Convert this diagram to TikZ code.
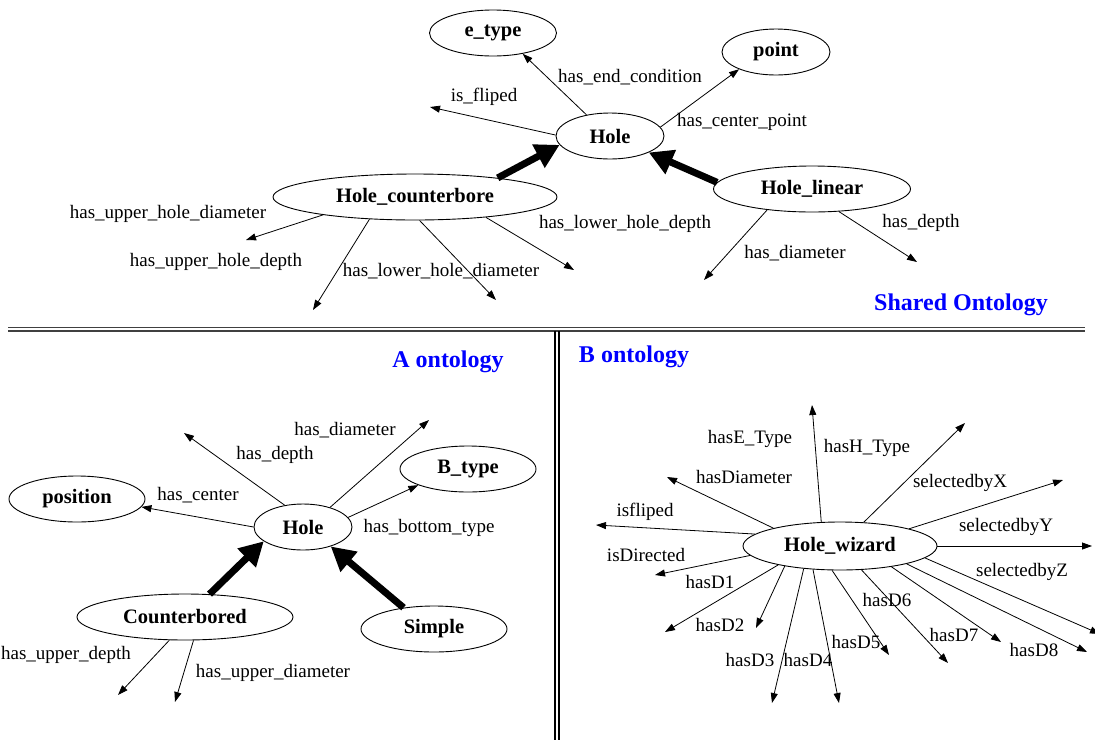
\documentclass[tikz,border=0pt]{standalone}
\usepackage{fontspec}
\setmainfont{Liberation Serif}
\usetikzlibrary{shapes,arrows.meta}

\begin{document}
\begin{tikzpicture}[x=1pt,y=-1pt]
    \tikzset{
        n/.style        =   { ellipse
                            , draw=black
                            , line width=0.9pt
                            , inner sep=0pt
                            , minimum height=46pt
                            , font=\bfseries\fontsize{20.5}{24}\selectfont
                            }
        , lbl/.style    =   { inner sep=0pt
                            , font=\fontsize{19}{22}\selectfont
                            }
        , title/.style  =   { inner sep=0pt
                            , text=blue
                            , font=\bfseries\fontsize{24}{28}\selectfont
                            }
        , arrow/.style  =   { line width=0.8pt
                            , -{Triangle[length=10pt,width=7pt]}
                            }
        , isa/.style    =   { line width=7pt
                            , -{Triangle[length=24pt,width=25pt]}
                            }
    }
    \useasboundingbox (0,0) rectangle (1095,740);

    % separators
    \draw[line width=1.5pt,black!75] (8,327.5) -- (1085,327.5);
    \draw[line width=1.5pt,black!75] (8,331) -- (1085,331);
    \draw[line width=2pt] (555,331) -- (555,740);
    \draw[line width=2pt] (558.5,331) -- (558.5,740);

    % shared ontology
    \node(1)[n,minimum width=108pt] at (610,136) {Hole};
    \node(2)[n,minimum width=127pt] at (493,33) {e\_type};
    \node(3)[n,minimum width=108pt] at (776,52) {point};
    \node(4)[n,minimum width=284pt] at (415,197) {Hole\_counterbore};
    \node(5)[n,minimum width=197pt] at (812,189) {Hole\_linear};
    \coordinate(t1) at (430,107);
    \coordinate(t2) at (246,240);
    \coordinate(t3) at (313,310);
    \coordinate(t4) at (496,300);
    \coordinate(t5) at (574,270);
    \coordinate(t6) at (704,280);
    \coordinate(t7) at (917,262);

    \draw[arrow] (1.138) -- (2.-35);
    \draw[arrow] (1.179) -- (t1);
    \draw[arrow] (1.10) -- (3.-155);
    \draw[isa] (4.13) -- (1.-170);
    \draw[isa] (5.176) -- (1.-23);
    \draw[arrow] (4.-169) -- (t2);
    \draw[arrow] (4.-154) -- (t3);
    \draw[arrow] (4.-79) -- (t4);
    \draw[arrow] (4.-16) -- (t5);
    \draw[arrow] (5.-155) -- (t6);
    \draw[arrow] (5.-40) -- (t7);

    \node(l1)[lbl] at (630,77) {has\_end\_condition};
    \node(l2)[lbl] at (484,97) {is\_fliped};
    \node(l3)[lbl] at (742,122) {has\_center\_point};
    \node(l4)[lbl] at (168,214) {has\_upper\_hole\_diameter};
    \node(l5)[lbl] at (216,262) {has\_upper\_hole\_depth};
    \node(l6)[lbl] at (441,271) {has\_lower\_hole\_diameter};
    \node(l7)[lbl] at (625,224) {has\_lower\_hole\_depth};
    \node(l8)[lbl] at (795,253) {has\_diameter};
    \node(l9)[lbl] at (921,223) {has\_depth};
    \node(h1)[title] at (961,305) {Shared Ontology};

    % A ontology
    \node(6)[n,minimum width=98pt] at (303,527) {Hole};
    \node(7)[n,minimum width=136pt] at (77,499) {position};
    \node(8)[n,minimum width=136pt] at (468,469) {B\_type};
    \node(9)[n,minimum width=216pt] at (185,617) {Counterbored};
    \node(10)[n,minimum width=146pt] at (434,629) {Simple};
    \coordinate(t8) at (184,433);
    \coordinate(t9) at (429,420);
    \coordinate(t10) at (118,695);
    \coordinate(t11) at (175,702);

    \draw[arrow] (6.130) -- (t8);
    \draw[arrow] (6.36) -- (t9);
    \draw[arrow] (6.12) -- (8.-162);
    \draw[arrow] (6.180) -- (7.-7);
    \draw[isa] (9.43) -- (6.-160);
    \draw[isa] (10.145) -- (6.-35);
    \draw[arrow] (9.-124) -- (t10);
    \draw[arrow] (9.-70) -- (t11);

    \node(l10)[lbl] at (275,455) {has\_depth};
    \node(l11)[lbl] at (345,430) {has\_diameter};
    \node(l12)[lbl] at (429,528) {has\_bottom\_type};
    \node(l13)[lbl] at (198,495) {has\_center};
    \node(l14)[lbl] at (66,655) {has\_upper\_depth};
    \node(l15)[lbl] at (273,673) {has\_upper\_diameter};
    \node(h2)[title] at (448,362) {A ontology};

    % B ontology
    \node(11)[n,minimum width=194pt,minimum height=48pt] at (840,546) {Hole\_wizard};
    \coordinate(t12) at (812,405);
    \coordinate(t13) at (965,423);
    \coordinate(t14) at (1063,480);
    \coordinate(t15) at (1092,546);
    \coordinate(t16) at (1100,634);
    \coordinate(t17) at (1087,652);
    \coordinate(t18) at (1001,642);
    \coordinate(t19) at (948,663);
    \coordinate(t20) at (889,655);
    \coordinate(t21) at (839,703);
    \coordinate(t22) at (772,703);
    \coordinate(t23) at (756,628);
    \coordinate(t24) at (665,632);
    \coordinate(t25) at (655,575);
    \coordinate(t26) at (596,525);
    \coordinate(t27) at (667,477);

    \draw[arrow] (11.128) -- (t12);
    \draw[arrow] (11.45) -- (t13);
    \draw[arrow] (11.14) -- (t14);
    \draw[arrow] (11.0) -- (t15);
    \draw[arrow] (11.-8) -- (t16);
    \draw[arrow] (11.-15) -- (t17);
    \draw[arrow] (11.-22) -- (t18);
    \draw[arrow] (11.-48) -- (t19);
    \draw[arrow] (11.-108) -- (t20);
    \draw[arrow] (11.-139) -- (t21);
    \draw[arrow] (11.-148) -- (t22);
    \draw[arrow] (11.-160) -- (t23);
    \draw[arrow] (11.-163) -- (t24);
    \draw[arrow] (11.-174) -- (t25);
    \draw[arrow] (11.172) -- (t26);
    \draw[arrow] (11.165) -- (t27);

    \node(l16)[lbl] at (750,439) {hasE\_Type};
    \node(l17)[lbl] at (867,448) {hasH\_Type};
    \node(l18)[lbl] at (960,483) {selectedbyX};
    \node(l19)[lbl] at (1006,527) {selectedbyY};
    \node(l20)[lbl] at (1022,572) {selectedbyZ};
    \node(l21)[lbl] at (1034,650) {hasD8};
    \node(l22)[lbl] at (954,635) {hasD7};
    \node(l23)[lbl] at (887,600) {hasD6};
    \node(l24)[lbl] at (856,642) {hasD5};
    \node(l25)[lbl] at (808,660) {hasD4};
    \node(l26)[lbl] at (750,660) {hasD3};
    \node(l27)[lbl] at (720,625) {hasD2};
    \node(l28)[lbl] at (710,582) {hasD1};
    \node(l29)[lbl] at (646,555) {isDirected};
    \node(l30)[lbl] at (645,512) {isfliped};
    \node(l31)[lbl] at (744,477) {hasDiameter};
    \node(h3)[title] at (634,357) {B ontology};
\end{tikzpicture}
\end{document}
